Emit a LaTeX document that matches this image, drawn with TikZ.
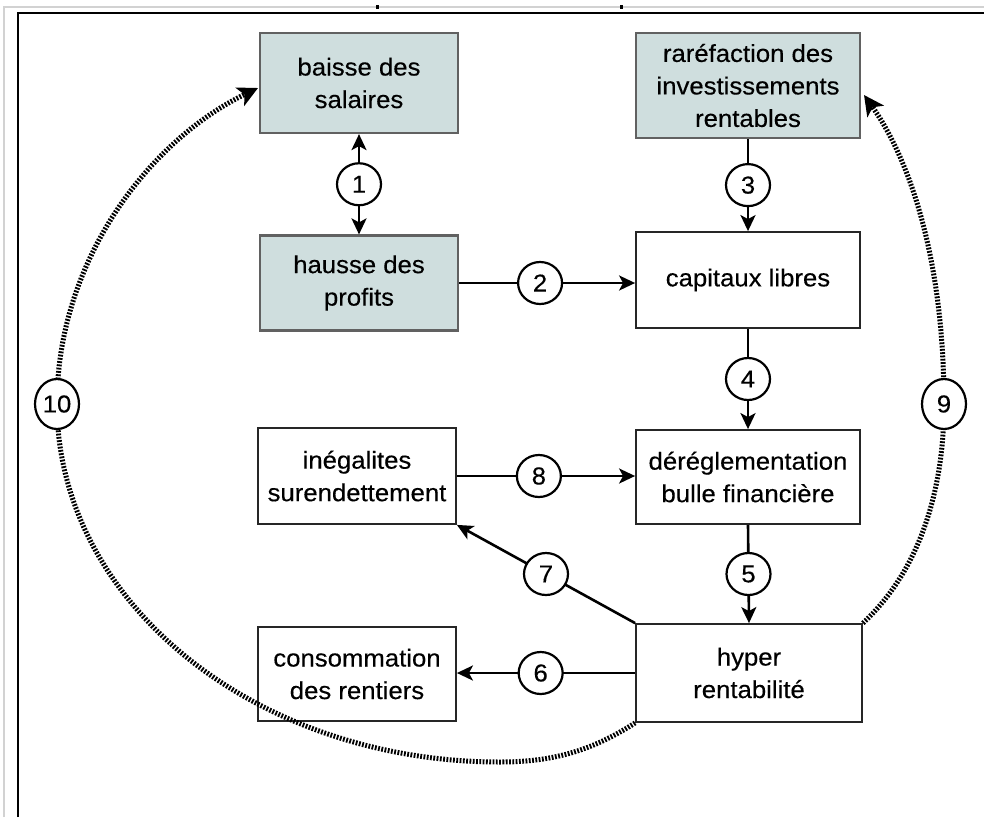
\documentclass[tikz,border=0pt]{standalone}
\usepackage{fontspec}
\setmainfont[FakeStretch=1.05,FakeBold=0.3]{Liberation Sans}
\usetikzlibrary{shapes.geometric,arrows.meta}
\definecolor{shadefill}{HTML}{CFDEDE}
\definecolor{framegrey}{HTML}{D2D2D2}
\begin{document}
\begin{tikzpicture}[x=1pt,y=-1pt,
  txt/.style={font=\fontsize{24.5}{32.5}\selectfont},
  box/.style={txt, draw=black!85, line width=1.8pt, align=center, inner sep=0pt, fill=white},
  shadedbox/.style={box, fill=shadefill, draw=black!62, line width=2.2pt},
  num/.style={txt, ellipse, draw=black, line width=2.2pt, fill=white, inner sep=0pt, minimum width=44pt, minimum height=42pt},
  bignum/.style={num, minimum height=50pt},
  arr/.style={line width=2.6pt, -{Stealth[length=16pt,width=15pt,inset=4pt]}},
  darr/.style={line width=2.6pt, {Stealth[length=16pt,width=15pt,inset=4pt]}-{Stealth[length=16pt,width=15pt,inset=4pt]}},
  dotline/.style={line width=5pt, black, dash pattern=on 1.8pt off 1.5pt, -{Stealth[length=20pt,width=20pt,inset=5pt]}}
]
\useasboundingbox[fill=white] (0,0) rectangle (984,817);
% frame
\draw[framegrey, line width=1.5pt] (4,817) -- (4,7) -- (984,7);
\draw[black, line width=2pt] (18,817) -- (18,13) -- (984,13);
\fill[black] (376,5) rectangle (379,9);
\fill[black] (620,5) rectangle (623,9);

% boxes
\node[shadedbox, minimum width=198pt, minimum height=100pt] (sal) at (359,83) {baisse des\\salaires};
\node[shadedbox, minimum width=224pt, minimum height=105pt] (rar) at (748,85.5) {raréfaction des\\investissements\\rentables};
\node[shadedbox, minimum width=198pt, minimum height=95pt] (pro) at (359,283) {hausse des\\profits};
\node[box, minimum width=224pt, minimum height=96pt] (cap) at (748,280) {capitaux libres};
\node[box, minimum width=198pt, minimum height=96pt] (ine) at (357,476) {inégalites\\surendettement};
\node[box, minimum width=224pt, minimum height=94pt] (der) at (748,477) {déréglementation\\bulle financière};
\node[box, minimum width=226pt, minimum height=98pt] (hyp) at (749,673) {hyper\\rentabilité};
\node[box, minimum width=198pt, minimum height=94pt] (con) at (357,674) {consommation\\des rentiers};

% connectors
\draw[darr] (sal.south) -- node[num] (n1) {1} (pro.north);
\draw[arr] (pro.east) -- node[num, pos=0.46] (n2) {2} (pro.east -| cap.west);
\draw[arr] (rar.south) -- node[num] (n3) {3} (cap.north);
\draw[arr] (cap.south) -- node[num] (n4) {4} (der.north);
\draw[arr] (der.south) -- node[num] (n5) {5} (hyp.north);
\draw[arr] (hyp.west) -- node[num, pos=0.53] (n6) {6} (hyp.west -| con.east);
\draw[arr] (hyp.north west) -- node[num] (n7) {7} (ine.south east);
\draw[arr] (ine.east) -- node[num, pos=0.46] (n8) {8} (ine.east -| der.west);

% dotted feedback arcs
\coordinate (p10) at (57,404);
\coordinate (p9) at (944,404);
\coordinate (t10) at (258,88);
\coordinate (t9) at (864,95);
\draw[dotline] (hyp.south west) .. controls (590,752) and (550,762) .. (500,762)
  .. controls (255,762) and (57,602) .. (p10)
  .. controls (57,260) and (150,140) .. (t10);
\draw[dotline] (hyp.north east) .. controls (920,570) and (944,490) .. (p9)
  .. controls (944,260) and (910,160) .. (t9);
\node[bignum] (n10) at (p10) {10};
\node[bignum] (n9) at (p9) {9};
\end{tikzpicture}
\end{document}
